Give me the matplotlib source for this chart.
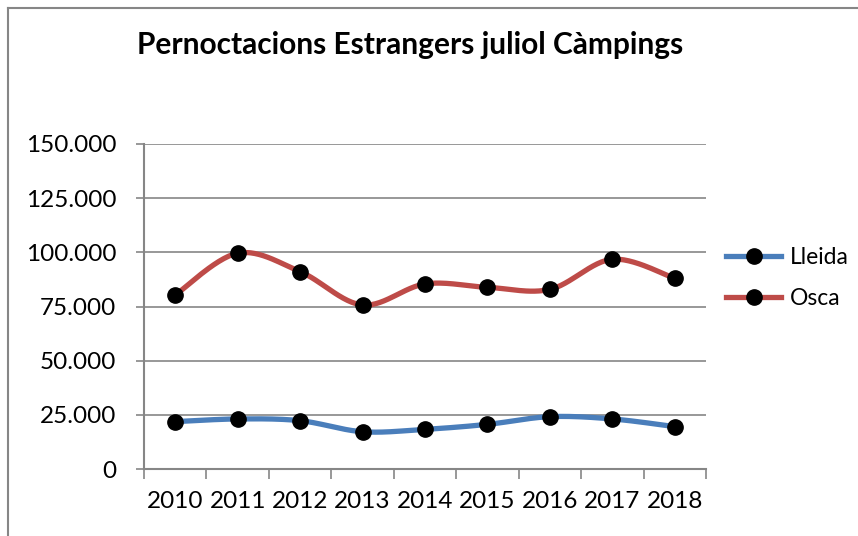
import numpy as np
import matplotlib
matplotlib.use("Agg")
import matplotlib.pyplot as plt
from matplotlib.lines import Line2D

years = ["2010", "2011", "2012", "2013", "2014", "2015", "2016", "2017", "2018"]
lleida = [21850, 23100, 22300, 17200, 18300, 20600, 24150, 23100, 19550]
osca = [80300, 99600, 91100, 75700, 85400, 83850, 82900, 96800, 88000]
yticks = [0, 25000, 50000, 75000, 100000, 125000, 150000]
ytick_labels = ["0", "25.000", "50.000", "75.000", "100.000", "125.000", "150.000"]

FONT = ["Lato", "DejaVu Sans"]

def smooth(x, y, n=30):
    x = np.asarray(x, float); y = np.asarray(y, float)
    xs, ys = [], []
    for i in range(len(x) - 1):
        p0 = (x[max(i - 1, 0)], y[max(i - 1, 0)])
        p1 = (x[i], y[i]); p2 = (x[i + 1], y[i + 1])
        p3 = (x[min(i + 2, len(x) - 1)], y[min(i + 2, len(x) - 1)])
        c1 = (p1[0] + (p2[0] - p0[0]) / 6, p1[1] + (p2[1] - p0[1]) / 6)
        c2 = (p2[0] - (p3[0] - p1[0]) / 6, p2[1] - (p3[1] - p1[1]) / 6)
        t = np.linspace(0, 1, n)
        bx = (1-t)**3*p1[0] + 3*(1-t)**2*t*c1[0] + 3*(1-t)*t**2*c2[0] + t**3*p2[0]
        by = (1-t)**3*p1[1] + 3*(1-t)**2*t*c1[1] + 3*(1-t)*t**2*c2[1] + t**3*p2[1]
        xs.append(bx); ys.append(by)
    return np.concatenate(xs), np.concatenate(ys)

fig = plt.figure(figsize=(8.58, 5.36), dpi=100)
W, H = 858, 536
left, right, top, bottom = 144, 706, 144, 469
ax = fig.add_axes([left / W, 1 - bottom / H, (right - left) / W, (bottom - top) / H])

x = np.arange(len(years))
blue = "#4a7ebb"
red = "#be4b48"
for vals, col in [(lleida, blue), (osca, red)]:
    sx, sy = smooth(x, vals)
    ax.plot(sx, sy, color=col, lw=3.8, solid_capstyle="round", zorder=3)
    ax.plot(x, vals, "o", color="black", ms=11, zorder=4)

ax.set_xlim(-0.5, len(years) - 0.5)
ax.set_ylim(0, 150000)
ax.set_yticks(yticks)
ax.set_yticklabels(ytick_labels, fontfamily=FONT, fontsize=17.5)
ax.set_xticks(x)
ax.set_xticklabels(years, fontfamily=FONT, fontsize=17.5)
ax.set_xticks(np.arange(-0.5, len(years)), minor=True)
ax.tick_params(axis="x", which="major", length=0, pad=16)
ax.tick_params(axis="x", which="minor", length=7, color="#868686", width=1.2, direction="out")
ax.tick_params(axis="y", length=6, color="#868686", width=1.2, pad=14)
ax.grid(axis="y", color="#868686", lw=1.2)
ax.set_axisbelow(True)
for s in ["top", "right"]:
    ax.spines[s].set_visible(False)
for s in ["left", "bottom"]:
    ax.spines[s].set_color("#868686")
    ax.spines[s].set_linewidth(1.5)

fig.text(410 / W, 1 - 45 / H, "Pernoctacions Estrangers juliol Càmpings", ha="center", va="center",
         fontfamily=FONT, fontsize=21.5, fontweight="bold")

handles = [Line2D([0], [0], color=blue, lw=3.8, marker="o", mfc="black", mec="black", ms=11),
           Line2D([0], [0], color=red, lw=3.8, marker="o", mfc="black", mec="black", ms=11)]
leg = fig.legend(handles, ["Lleida", "Osca"], loc="center left", bbox_to_anchor=(726 / W, 1 - 278 / H),
                 frameon=False, prop={"family": FONT, "size": 16.5}, handlelength=2.4,
                 handletextpad=0.4, labelspacing=0.9, borderpad=0, borderaxespad=0)

# outer chart border
fig.add_artist(plt.Line2D([8 / W, 8 / W], [0, 1 - 8 / H], color="#868686", lw=1.5, transform=fig.transFigure))
fig.add_artist(plt.Line2D([8 / W, 1], [1 - 8 / H, 1 - 8 / H], color="#868686", lw=1.5, transform=fig.transFigure))

fig.savefig("out.png", dpi=100)
